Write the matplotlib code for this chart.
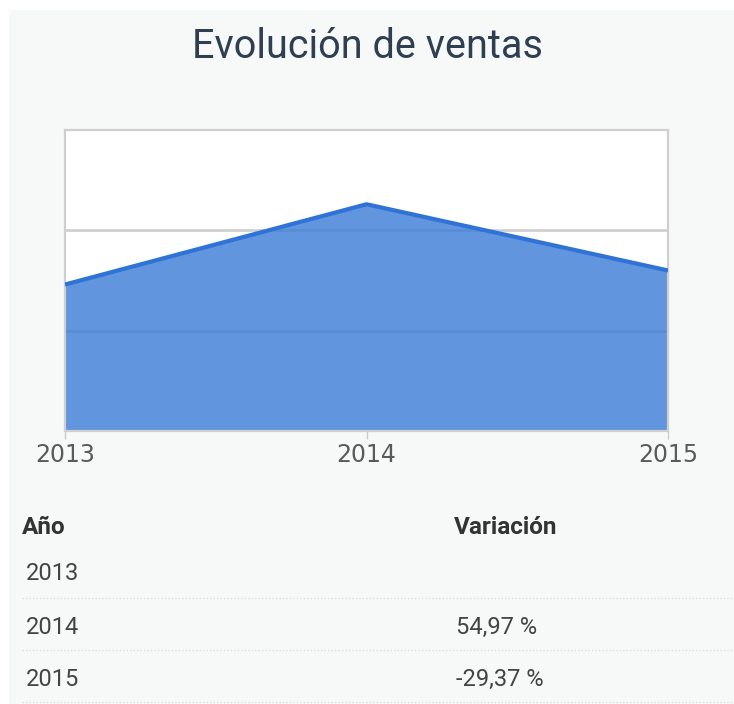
import matplotlib.pyplot as plt
from matplotlib.patches import Rectangle
from matplotlib.lines import Line2D

# data
years = ['2013', '2014', '2015']
ventas = [1.46, 2.26, 1.60]
variacion = ['', '54,97 %', '-29,37 %']

fig = plt.figure(figsize=(7.34, 7.04), dpi=100)
fig.patch.set_facecolor('white')
fig.patches.append(Rectangle((9 / 734, 0), 1, 1 - 10 / 704, transform=fig.transFigure,
                             facecolor='#f7f9f9', edgecolor='none', zorder=-10))

fig.text(0.5, 1 - 46 / 704, 'Evolución de ventas', ha='center', va='center',
         fontsize=28.5, family='Roboto', color='#2e3f52')

ax = fig.add_axes([65 / 734, 1 - 431 / 704, 603 / 734, 301 / 704])
ax.set_zorder(1)
ax.set_facecolor('white')
x = range(len(years))
ax.fill_between(x, ventas, 0, color='#3a7bd5', alpha=0.8, lw=0, zorder=2)
ax.plot(x, ventas, color='#2f73d6', lw=3, zorder=3, solid_capstyle='butt')
ax.set_xlim(0, 2)
ax.set_ylim(0, 3)
ax.set_yticks([1, 2])
ax.set_yticklabels([])
ax.tick_params(axis='y', length=0)
ax.grid(axis='y', color='#d0d0d0', lw=2, zorder=1)
ax.set_axisbelow(True)
ax.set_xticks(list(x))
ax.set_xticklabels(years, fontsize=17, color='#5a5a5a', family='DejaVu Sans')
ax.tick_params(axis='x', length=6, width=1, color='#cccccc', pad=3)
for s in ax.spines.values():
    s.set_color('#cfcfcf')
    s.set_linewidth(1.6)

# table below the chart
fig.text(22 / 734, 1 - 528 / 704, 'Año', fontsize=17.5, family='Roboto', weight='bold',
         color='#333333', va='center')
fig.text(454 / 734, 1 - 528 / 704, 'Variación', fontsize=17.5, family='Roboto', weight='bold',
         color='#333333', va='center')
row_y = [574, 627, 679]
line_y = [598, 650, 702]
for yr, var, ry, ly in zip(years, variacion, row_y, line_y):
    fig.text(26 / 734, 1 - ry / 704, yr, fontsize=17, family='Roboto', color='#444444', va='center')
    fig.text(456 / 734, 1 - ry / 704, var, fontsize=17, family='Roboto', color='#444444', va='center')
    fig.lines.append(Line2D([22 / 734, 1], [1 - ly / 704] * 2, transform=fig.transFigure,
                            color='#dddddd', lw=1, ls=(0, (1, 1.5))))

fig.savefig('out.png', dpi=100)
